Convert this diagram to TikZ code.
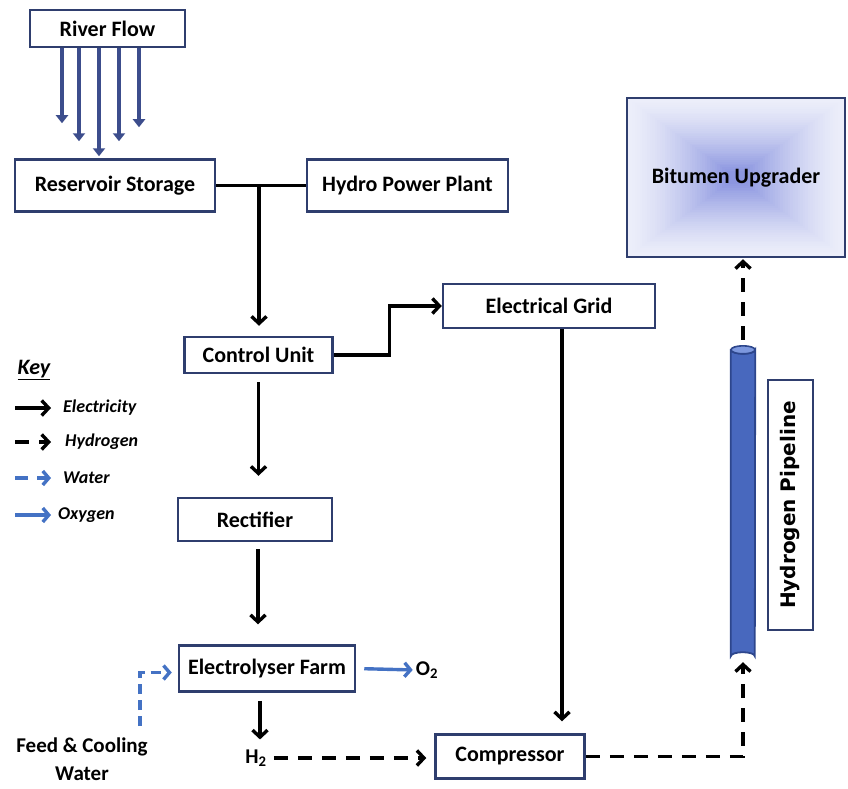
\documentclass[tikz,border=0pt]{standalone}
\usepackage{fontspec}
\setmainfont{Carlito}
\newfontfamily\pipefont{DejaVu Sans}
\usetikzlibrary{arrows.meta,calc}
\definecolor{boxc}{RGB}{47,62,110}
\definecolor{navy}{RGB}{60,77,140}
\definecolor{wblue}{RGB}{68,114,196}
\definecolor{pipec}{RGB}{72,104,190}
\definecolor{pipeedge}{RGB}{45,70,140}
\definecolor{pipetop}{RGB}{125,152,222}
\definecolor{bout}{RGB}{236,238,250}
\definecolor{bin}{RGB}{140,150,224}
\begin{document}
\begin{tikzpicture}[x=1pt,y=-1pt,
  box/.style={draw=boxc,line width=2.5pt,fill=white,inner sep=0pt,
    font=\bfseries\fontsize{22}{26}\selectfont},
  plain/.style={draw=black,line width=3.4pt},
  elecarrow/.style={draw=black,line width=3.4pt,-{Straight Barb[length=7pt,width=15pt]}},
  hydarrow/.style={elecarrow,dash pattern=on 14pt off 10pt},
  waterarrow/.style={draw=wblue,line width=3.4pt,dash pattern=on 10pt off 6pt,-{Straight Barb[length=6pt,width=14pt]}},
  oxyarrow/.style={draw=wblue,line width=3.4pt,-{Straight Barb[length=6pt,width=14pt]}},
  riverarrow/.style={draw=navy,line width=4.4pt,-{Triangle[length=8pt,width=12pt]}},
  lbl/.style={inner sep=1pt,font=\bfseries\fontsize{21}{24}\selectfont},
  keytxt/.style={anchor=west,inner sep=0pt,font=\bfseries\itshape\fontsize{18}{20}\selectfont}
]
\useasboundingbox (0,0) rectangle (848,789);

% boxes
\node[box,minimum width=155pt,minimum height=37pt] (river) at (107.5,28.5) {River Flow};
\node[box,minimum width=200pt,minimum height=52pt] (res) at (115,185.5) {Reservoir Storage};
\node[box,minimum width=201pt,minimum height=52pt] (hydro) at (407.5,185.5) {Hydro Power Plant};
\node[box,minimum width=148pt,minimum height=36pt] (ctrl) at (258.5,355) {Control Unit};
\node[box,minimum width=212pt,minimum height=44pt] (grid) at (549,306) {Electrical Grid};
\node[box,minimum width=154pt,minimum height=43pt] (rect) at (255,519.5) {Rectifier};
\node[box,minimum width=176pt,minimum height=46pt] (elec) at (267,668.5) {Electrolyser Farm};
\node[box,minimum width=149pt,minimum height=44pt] (comp) at (510,756.5) {Compressor};
\node[box,minimum width=218pt,minimum height=159pt,
  path picture={
    \foreach \i in {0,...,40}{
      \pgfmathtruncatemacro\p{100*(\i/40)^1.4}
      \fill[bin!\p!bout] ([shift={(\i*2.5pt,-\i*1.82pt)}]path picture bounding box.north west)
        rectangle ([shift={(-\i*2.5pt,\i*1.82pt)}]path picture bounding box.south east);
    }
  }] (bit) at (736,177.5) {Bitumen Upgrader};
\node[box,minimum width=45pt,minimum height=250pt] (hpbox) at (790.5,505) {};
\node[rotate=90,inner sep=0pt,font=\pipefont\bfseries\fontsize{20}{22}\selectfont] (hptxt) at (hpbox) {Hydrogen Pipeline};

% pipeline cylinder
\node[minimum width=24pt,minimum height=314pt,inner sep=0pt] (pipe) at (743,503) {};
\draw[pipeedge,line width=1.8pt,fill=pipec]
  ([yshift=-4pt]pipe.north west) -- ([yshift=4pt]pipe.south west)
  arc[start angle=180,end angle=360,x radius=12,y radius=4]
  -- ([yshift=-4pt]pipe.north east)
  arc[start angle=0,end angle=180,x radius=12,y radius=4] -- cycle;
\draw[pipeedge,line width=1.6pt,fill=pipetop] ([yshift=-4pt]pipe.north) ellipse[x radius=12,y radius=4];

% labels
\node[lbl] (h2) at (256,758) {H\textsubscript{2}};
\node[lbl] (o2) at (427,670) {O\textsubscript{2}};
\node[lbl,align=center,font=\bfseries\fontsize{21}{28}\selectfont] (feed) at (82,759) {Feed \& Cooling\\Water};

% river flow arrows
\draw[riverarrow] ([xshift=-45.5pt]river.south) -- ++(0,75);
\draw[riverarrow] ([xshift=-28.5pt]river.south) -- ++(0,93);
\draw[riverarrow] ([xshift=-8.5pt]river.south) -- ++(0,108);
\draw[riverarrow] ([xshift=11.5pt]river.south) -- ++(0,93);
\draw[riverarrow] ([xshift=31.5pt]river.south) -- ++(0,79);

% electricity connectors
\draw[plain] (res.east) -- (hydro.west);
\coordinate (j) at (259,185.5);
\draw[elecarrow,shorten >=10pt] (j) -- (j |- ctrl.north);
\draw[elecarrow] (ctrl.east) -- ++(56,0) |- (grid.west);
\draw[elecarrow,shorten <=8pt,shorten >=21pt] (ctrl.south) -- (ctrl.south |- rect.north);
\draw[elecarrow,shorten <=7pt,shorten >=20pt] ([xshift=3pt]rect.south) -- ([xshift=3pt]rect.south |- elec.north);
\draw[elecarrow,shorten <=8pt,shorten >=9pt] ([xshift=-7pt]elec.south) -- ([xshift=-7pt]elec.south |- h2.north);
\draw[elecarrow,shorten >=12pt] ([xshift=13pt]grid.south) -- ([xshift=13pt]grid.south |- comp.north);

% hydrogen connectors
\draw[hydarrow,shorten <=6pt,shorten >=8pt] (h2.east) -- (h2.east -| comp.west);
\draw[hydarrow,shorten >=2pt] (comp.east) -| (pipe.south);
\draw[hydarrow,shorten <=6pt,shorten >=1pt] (pipe.north) -- (pipe.north |- bit.south);

% water and oxygen
\coordinate (w0) at (140,726);
\draw[waterarrow] (w0) |- ([xshift=-6pt,yshift=-4pt]elec.west);
\draw[oxyarrow,shorten <=8pt,shorten >=2pt] (elec.east) -- (o2.west);

% key
\node[inner sep=0pt,font=\bfseries\itshape\fontsize{22}{24}\selectfont] (key) at (34,370) {\underline{Key}};
\node[keytxt] (k1) at (63,408) {Electricity};
\node[keytxt] (k2) at (65,442) {Hydrogen};
\node[keytxt] (k3) at (63,478) {Water};
\node[keytxt] (k4) at (58,515) {Oxygen};
\coordinate (ka1) at (15,408);
\coordinate (ka2) at (15,442);
\coordinate (ka3) at (15,478);
\coordinate (ka4) at (15,515);
\draw[elecarrow,shorten >=12pt] (ka1) -- (ka1 -| k1.west);
\draw[hydarrow,shorten >=14pt] (ka2) -- (ka2 -| k2.west);
\draw[waterarrow,dash pattern=on 13pt off 9pt,shorten >=12pt] (ka3) -- (ka3 -| k3.west);
\draw[oxyarrow,shorten >=7pt] (ka4) -- (ka4 -| k4.west);
\end{tikzpicture}
\end{document}
